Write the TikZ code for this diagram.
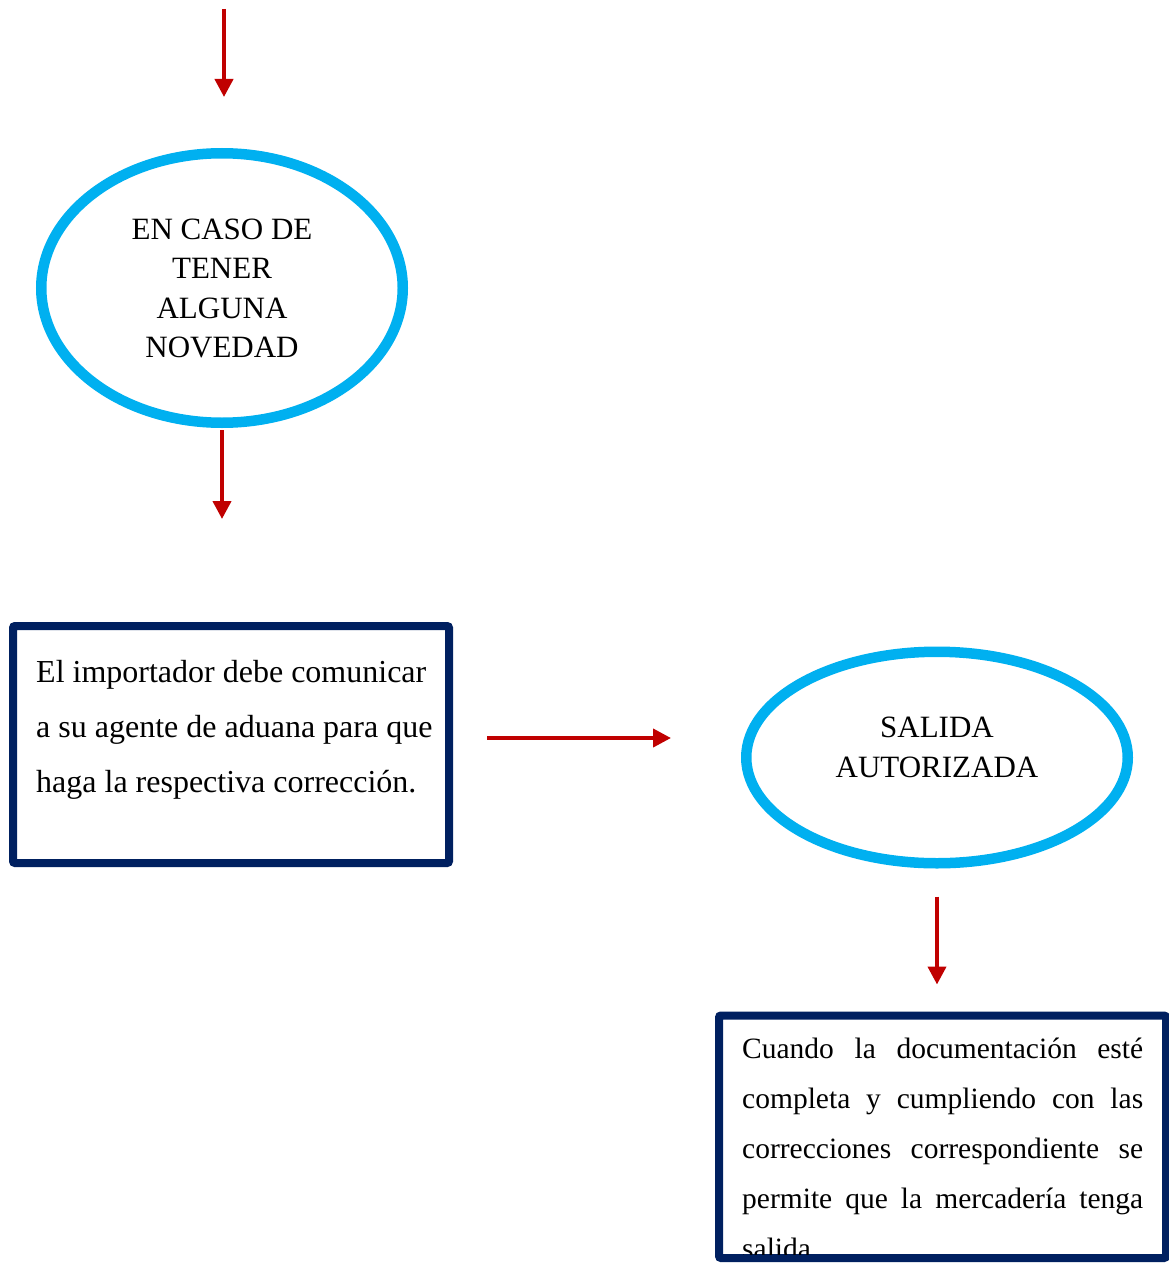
\documentclass[tikz,border=0pt]{standalone}
\usepackage{fontspec}
\setmainfont{Liberation Serif}
\usetikzlibrary{arrows.meta,shapes.geometric}
\definecolor{arrred}{HTML}{C00000}
\definecolor{ovalblue}{HTML}{00B0F0}
\definecolor{boxnavy}{HTML}{002060}
\newcommand{\myjline}[1]{\leavevmode\hbox to 401pt{#1}}
\tikzset{
  oval/.style={ellipse, draw=ovalblue, line width=10.5pt, inner sep=0pt, fill=white},
  navybox/.style={rectangle, draw=boxnavy, line width=8pt, rounded corners=2pt, inner sep=0pt, fill=white},
  redarrow/.style={draw=arrred, line width=4pt, -{Triangle[length=18pt,width=18pt]}},
  ovaltext/.style={inner sep=0pt, align=center, font=\fontsize{31}{39.5}\selectfont},
  boxtext/.style={inner sep=0pt, align=left, font=\fontsize{32}{55}\selectfont},
}
\begin{document}
\begin{tikzpicture}[x=1pt,y=-1pt]
\useasboundingbox[fill=white] (0,0) rectangle (1168,1268);

% first oval
\node[oval, minimum width=361.5pt, minimum height=269.5pt] (e1) at (222,288) {};
\node[ovaltext, anchor=base] (t1) at (222,357.5) {EN CASO DE\\TENER\\ALGUNA\\NOVEDAD};

% first box
\node[navybox, minimum width=436pt, minimum height=237pt] (r1) at (231,744.5) {};
\node[boxtext, anchor=base west] (t2) at (36,792) {El importador debe comunicar\\a su agente de aduana para que\\haga la respectiva corrección.};

% second oval
\node[oval, minimum width=381.5pt, minimum height=211.5pt] (e2) at (937,757.5) {};
\node[ovaltext, font=\fontsize{31}{40}\selectfont, anchor=base] (t3) at (937,777) {SALIDA\\AUTORIZADA};

% second box
\node[navybox, line width=8pt, minimum width=447pt, minimum height=242.5pt] (r2) at (942.5,1136.75) {};
\begin{scope}
  \clip ([xshift=8pt,yshift=8pt]r2.south west) rectangle ([xshift=-8pt,yshift=-8pt]r2.north east);
  \node[inner sep=0pt, text width=401pt, align=left, font=\fontsize{29.5}{50}\selectfont, anchor=base west] (t4) at (742,1058)
  {\myjline{Cuando\hfill la\hfill documentación\hfill esté}\\
   \myjline{completa\hfill y\hfill cumpliendo\hfill con\hfill las}\\
   \myjline{correcciones\hfill correspondiente\hfill se}\\
   \myjline{permite\hfill que\hfill la\hfill mercadería\hfill tenga}\\
   salida};
\end{scope}

% connectors
\coordinate (a0) at (224,9);
\coordinate (hy) at (0,738);
\draw[redarrow, shorten >=51pt] (a0) -- (a0 |- e1.north);
\draw[redarrow, shorten <=2pt, shorten >=103pt] (e1.south) -- (e1.south |- r1.north);
\draw[redarrow, shorten <=34pt, shorten >=70pt] (r1.east |- hy) -- (e2.west |- hy);
\draw[redarrow, shorten <=28pt, shorten >=27pt] (e2.south) -- (e2.south |- r2.north);
\end{tikzpicture}
\end{document}
